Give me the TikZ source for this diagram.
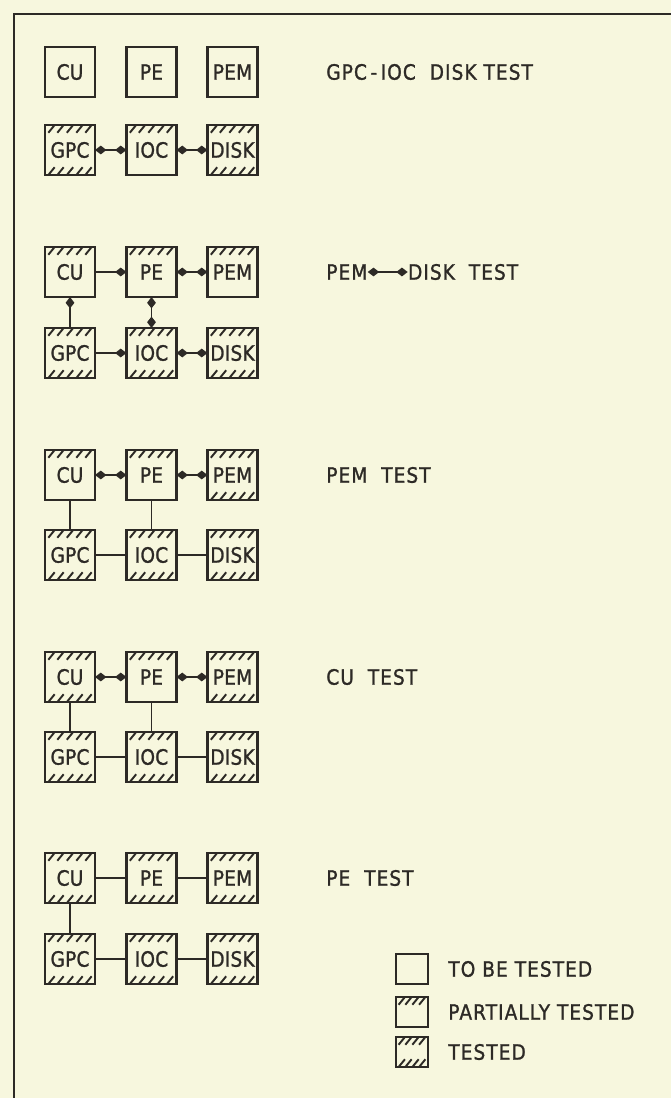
\documentclass[tikz,border=0pt]{standalone}
\usepackage{fontspec}
\usepackage{tikz}
\usetikzlibrary{arrows.meta, positioning, calc}
\newfontfamily\lettering[LetterSpace=5, FakeStretch=0.88, FakeBold=1.2]{DejaVu Sans}
\newfontfamily\boxlettering[LetterSpace=1, FakeStretch=0.88, FakeBold=1.2]{DejaVu Sans}
\definecolor{paper}{RGB}{247,247,222}
\definecolor{ink}{RGB}{45,42,38}
% tick positions along an edge (fractions of the box width)
\newcommand\ticklist{0.13,0.31,0.5,0.69,0.87}
\newcommand\hatchedge[2]{%
  \foreach \t in \ticklist {%
    \draw[tick] ($(path picture bounding box.#1 west)!\t!(path picture bounding box.#1 east)$)
      ++(-1.8pt,#2) -- ++(3.6pt,4.4pt);}}
\tikzset{
  knob/.tip={Kite[length=6.5pt,width=5pt,inset=3.2pt]},
  tick/.style={draw=ink, line width=1.1pt},
  box/.style={rectangle, draw=ink, line width=1.3pt, minimum size=1cm,
              inner sep=0pt, outer sep=0pt, font=\boxlettering\fontsize{12}{14}\selectfont},
  part/.style={box, path picture={\hatchedge{north}{-4.4pt}}},
  done/.style={box, path picture={\hatchedge{north}{-4.4pt}\hatchedge{south}{0pt}}},
  keybox/.style={minimum width=0.64cm, minimum height=0.6cm},
  link/.style={draw=ink, line width=1.1pt},
  caption/.style={anchor=west, inner sep=0pt, text=ink,
                  font=\lettering\fontsize{12}{14}\selectfont},
  frame/.style={draw=ink, line width=0.9pt},
}

\begin{document}
\begin{tikzpicture}[x=0.02cm, y=-0.02cm, text=ink]
  % paper
  \fill[paper] (0,0) rectangle (671,1098);
  \useasboundingbox (0,0) rectangle (671,1098);
  \draw[frame] (14,1098) -- (14,14) -- (671,14);

  % GPC-IOC disk test
  \node[box]  (cuA)   at (70,72)    {CU};
  \node[box]  (peA)   at (151.5,72) {PE};
  \node[box]  (pemA)  at (232.5,72) {PEM};
  \node[done] (gpcA)  at (70,150)   {GPC};
  \node[part] (iocA)  at (151.5,150){IOC};
  \node[done] (diskA) at (232.5,150){DISK};
  \draw[link, knob-knob] (gpcA) -- (iocA);
  \draw[link, knob-knob] (iocA) -- (diskA);
  \node[caption] (capA) at (326,72) {GPC\,-\,IOC\ \ DISK TEST};

  % PEM <-> disk test
  \node[part] (cuB)   at (70,272)    {CU};
  \node[part] (peB)   at (151.5,272) {PE};
  \node[part] (pemB)  at (232.5,272) {PEM};
  \node[done] (gpcB)  at (70,353)    {GPC};
  \node[done] (iocB)  at (151.5,353) {IOC};
  \node[done] (diskB) at (232.5,353) {DISK};
  \draw[link, -knob] (cuB) -- (peB);
  \draw[link, knob-knob] (peB) -- (pemB);
  \draw[link, -knob] (gpcB) -- (cuB);
  \draw[link, knob-knob] (peB) -- (iocB);
  \draw[link, -knob] (gpcB) -- (iocB);
  \draw[link, knob-knob] (iocB) -- (diskB);
  \node[caption] (capB) at (326,272) {PEM};
  \node[caption, right=0.8cm of capB] (capBb) {DISK\ \ TEST};
  \draw[link, knob-knob] (capB) -- (capBb);

  % PEM test
  \node[part] (cuC)   at (70,475)    {CU};
  \node[part] (peC)   at (151.5,475) {PE};
  \node[done] (pemC)  at (232.5,475) {PEM};
  \node[done] (gpcC)  at (70,555)    {GPC};
  \node[done] (iocC)  at (151.5,555) {IOC};
  \node[done] (diskC) at (232.5,555) {DISK};
  \draw[link, knob-knob] (cuC) -- (peC);
  \draw[link, knob-knob] (peC) -- (pemC);
  \draw[link] (cuC) -- (gpcC);
  \draw[link] (peC) -- (iocC);
  \draw[link] (gpcC) -- (iocC);
  \draw[link] (iocC) -- (diskC);
  \node[caption] (capC) at (326,475) {PEM\ \ TEST};

  % CU test
  \node[done] (cuD)   at (70,677)    {CU};
  \node[part] (peD)   at (151.5,677) {PE};
  \node[done] (pemD)  at (232.5,677) {PEM};
  \node[done] (gpcD)  at (70,757)    {GPC};
  \node[done] (iocD)  at (151.5,757) {IOC};
  \node[done] (diskD) at (232.5,757) {DISK};
  \draw[link, knob-knob] (cuD) -- (peD);
  \draw[link, knob-knob] (peD) -- (pemD);
  \draw[link] (cuD) -- (gpcD);
  \draw[link] (peD) -- (iocD);
  \draw[link] (gpcD) -- (iocD);
  \draw[link] (iocD) -- (diskD);
  \node[caption] (capD) at (326,677) {CU\ \ TEST};

  % PE test
  \node[done] (cuE)   at (70,878)    {CU};
  \node[done] (peE)   at (151.5,878) {PE};
  \node[done] (pemE)  at (232.5,878) {PEM};
  \node[done] (gpcE)  at (70,959)    {GPC};
  \node[done] (iocE)  at (151.5,959) {IOC};
  \node[done] (diskE) at (232.5,959) {DISK};
  \draw[link] (cuE) -- (peE);
  \draw[link] (peE) -- (pemE);
  \draw[link] (cuE) -- (gpcE);
  \draw[link] (gpcE) -- (iocE);
  \draw[link] (iocE) -- (diskE);
  \node[caption] (capE) at (326,878) {PE\ \ TEST};

  % legend
  \def\ticklist{0.18,0.39,0.61,0.82}
  \node[box, keybox]  (keyA) at (412,969)  {};
  \node[part, keybox] (keyB) at (412,1012) {};
  \node[done, keybox] (keyC) at (412,1052) {};
  \node[caption] at (448,969)  {TO BE TESTED};
  \node[caption] at (448,1012) {PARTIALLY TESTED};
  \node[caption] at (448,1052) {TESTED};
\end{tikzpicture}
\end{document}
